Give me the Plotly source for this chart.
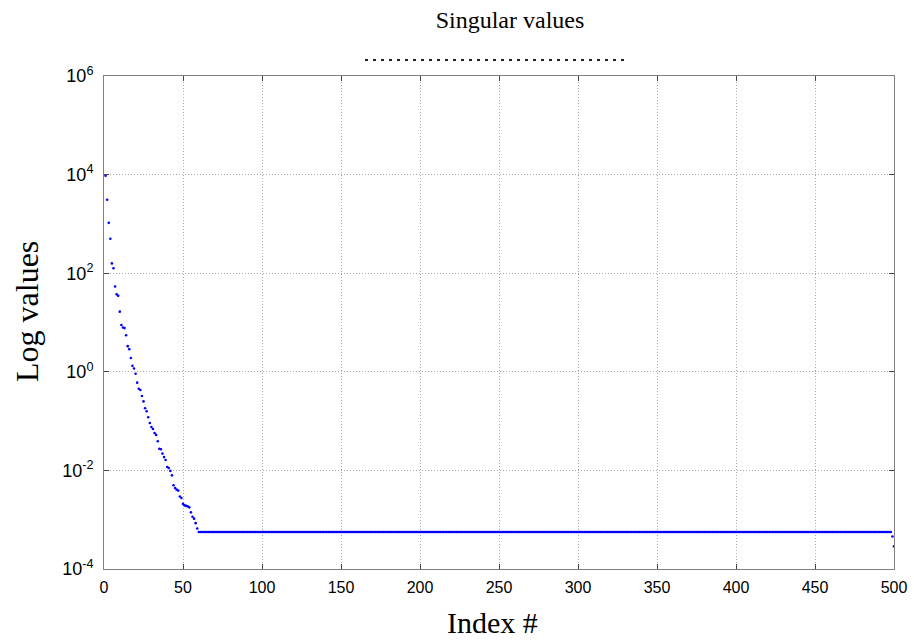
import plotly.graph_objects as go

# Singular values, index 1..59, plateau, and the two last points
head_values = [
    9.5e3, 3.09e3, 1.05e3, 501, 158, 126, 53.7, 37.2, 34.7, 16.6,
    8.91, 7.94, 7.69, 5.50, 3.31, 2.88, 1.91, 1.32, 1.17, 0.912,
    0.603, 0.452, 0.427, 0.324, 0.251, 0.182, 0.158, 0.120, 0.0912, 0.0759,
    0.0692, 0.0575, 0.0525, 0.0389, 0.0275, 0.0269, 0.0219, 0.0186, 0.0162, 0.0117,
    0.0112, 0.00977, 0.00794, 0.00501, 0.00437, 0.00407, 0.00389, 0.00295, 0.00275, 0.00209,
    0.00195, 0.00191, 0.00186, 0.00178, 0.00141, 0.00115, 0.00105, 0.000851, 0.000661,
]
plateau_value = 0.000562
plateau_count = 439          # indices 60..498
tail_values = [0.000457, 0.000288]  # indices 499, 500

values = head_values + [plateau_value] * plateau_count + tail_values
index = list(range(1, len(values) + 1))

x_ticks = [0, 50, 100, 150, 200, 250, 300, 350, 400, 450, 500]
y_ticks = [1e-4, 1e-2, 1, 1e2, 1e4, 1e6]
y_ticktext = ["10<sup>-4</sup>", "10<sup>-2</sup>", "10<sup>0</sup>",
              "10<sup>2</sup>", "10<sup>4</sup>", "10<sup>6</sup>"]

fig = go.Figure()
fig.add_trace(go.Scatter(
    x=index, y=values, mode="markers",
    marker=dict(symbol="circle", size=2.6, color="#0000ff", line=dict(width=0)),
    showlegend=False,
))

axis_common = dict(
    showline=True, linecolor="#808080", linewidth=1, mirror="ticks",
    ticks="inside", ticklen=5, tickcolor="#444",
    showgrid=True, gridcolor="#a8a8a8", griddash="1px,2px", gridwidth=1,
    zeroline=False, automargin=False,
)
serif = "Liberation Serif, Times New Roman"
sans = "Liberation Sans, Arial"

W, H = 914, 642
L, R, T, B = 104, 20, 76, 73

fig.update_layout(
    width=W, height=H,
    margin=dict(l=L, r=R, t=T, b=B),
    paper_bgcolor="white", plot_bgcolor="white",
    title=dict(text="Singular values", x=510 / W, xanchor="center", y=1 - 20 / H, yanchor="middle",
               font=dict(family=serif, size=24, color="black")),
    xaxis=dict(range=[0, 500], tickvals=x_ticks, ticktext=[str(t) for t in x_ticks],
               ticklabelstandoff=4,
               tickfont=dict(family=sans, size=16, color="black"),
               **axis_common),
    yaxis=dict(type="log", range=[-4, 6], tickvals=y_ticks, ticktext=y_ticktext,
               ticklabelstandoff=6,
               tickfont=dict(family=sans, size=18, color="black"),
               **axis_common),
    annotations=[
        dict(text="Index #", xref="paper", yref="paper",
             x=(492 - L) / (W - L - R), y=-(622 - (H - B)) / (H - T - B),
             xanchor="center", yanchor="middle", showarrow=False,
             font=dict(family=serif, size=30, color="black")),
        dict(text="Log values", xref="paper", yref="paper", textangle=-90,
             x=-(L - 27) / (W - L - R), y=((H - B) - 312) / (H - T - B),
             xanchor="center", yanchor="middle", showarrow=False,
             font=dict(family=serif, size=32, color="black")),
    ],
    shapes=[dict(type="line", xref="paper", yref="paper",
                 x0=(365 - L) / (W - L - R), x1=(627 - L) / (W - L - R),
                 y0=((H - B) - 60) / (H - T - B), y1=((H - B) - 60) / (H - T - B),
                 line=dict(color="#222", width=2, dash="3px,5px"))],
)

fig.write_html("out.html")
